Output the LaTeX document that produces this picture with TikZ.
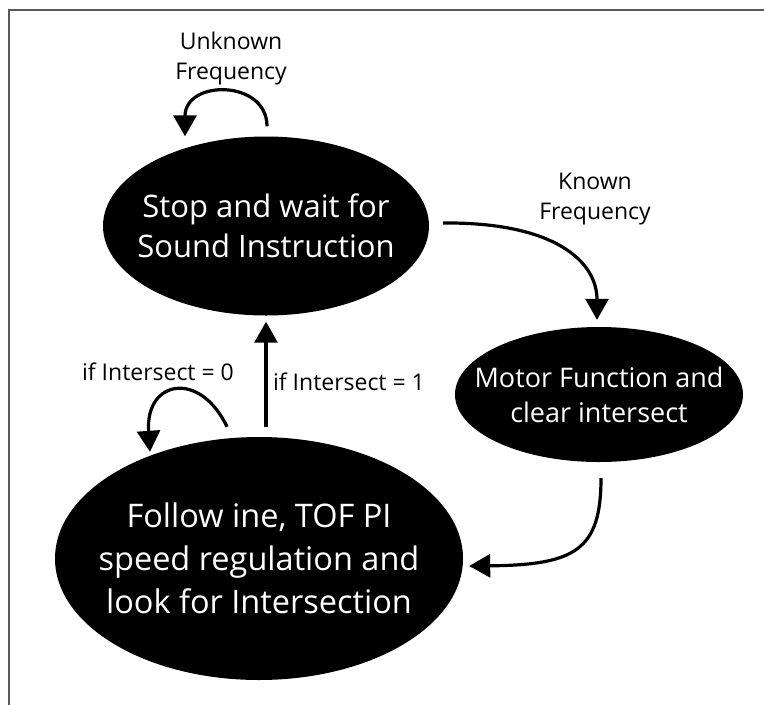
\documentclass[tikz,border=0pt]{standalone}
\usepackage{fontspec}
\setmainfont{Open Sans}
\usetikzlibrary{shapes.geometric,arrows.meta,calc}
\begin{document}
\begin{tikzpicture}[x=1pt,y=-1pt,
  state/.style={ellipse,fill=black,inner sep=0pt},
  stext/.style={text=white,inner sep=0pt,align=center},
  lbl/.style={align=center,inner sep=0pt,font=\fontsize{23}{30}\selectfont},
  arr/.style={line width=3.2pt,-{Triangle[length=21pt,width=23pt]}}]
\useasboundingbox (0,0) rectangle (764,705);
\draw[line width=1.4pt,color=black!65] (9,705) -- (9,10) -- (764,10);

\node[state,minimum width=326pt,minimum height=179pt] (A) at (266,226) {};
\node[stext,font=\fontsize{31}{40}\selectfont] (At) at (A.center) {Stop and wait for\\Sound Instruction};
\node[state,minimum width=288pt,minimum height=135pt] (B) at (599,394.5) {};
\node[stext,font=\fontsize{27}{35}\selectfont] (Bt) at (B.center) {Motor Function and\\clear intersect};
\node[state,minimum width=408pt,minimum height=243pt] (C) at (259,558.5) {};
\node[stext,font=\fontsize{32.5}{43}\selectfont] (Ct) at (C.center) {Follow ine, TOF PI\\speed regulation and\\look for Intersection};

\node[lbl] (lu) at (231,59) {Unknown\\Frequency};
\node[lbl] (lk) at (595,199) {Known\\Frequency};
\node[lbl] (l0) at (158,372) {if Intersect = 0};
\node[lbl] (l1) at (349,382) {if Intersect = 1};

\coordinate (a1) at ($(A.north)+(1,-10)$);
\coordinate (a2) at ($(A.north)+(-81,0)$);
\draw[arr] (a1) .. controls ($(a1)+(0,-47)$) and ($(a2)+(0,-57)$) .. (a2);

\coordinate (k1) at ($(A.east)+(14,-3)$);
\coordinate (k2) at ($(B.north)+(-2,-7)$);
\draw[arr] (k1) .. controls ($(k1)+(112,-1)$) and ($(k2)+(0,-58)$) .. (k2);

\coordinate (b1) at ($(B.south)+(2,16)$);
\coordinate (b2) at ($(C.east)+(6,7.5)$);
\draw[arr] (b1) .. controls ($(b1)+(0,72)$) and ($(b2)+(106,-1)$) .. (b2);

\coordinate (c1) at ($(C.north)+(7,-10)$);
\coordinate (c2) at ($(A.south)+(0,6)$);
\draw[arr] (c1) -- (c2);

\coordinate (s1) at ($(C.north)+(-32,-10)$);
\coordinate (s2) at ($(C.north)+(-109,15)$);
\draw[arr] (s1) .. controls ($(s1)+(-27,-57)$) and ($(s2)+(-5,-72)$) .. (s2);
\end{tikzpicture}
\end{document}
